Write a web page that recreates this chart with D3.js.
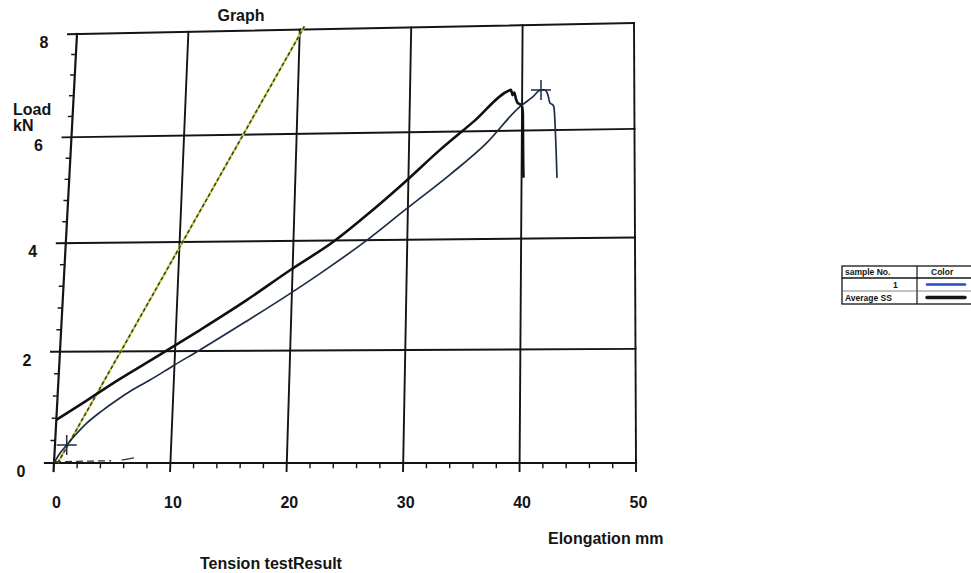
<!DOCTYPE html>
<html>
<head>
<meta charset="utf-8">
<script src="https://cdn.jsdelivr.net/npm/d3@7"></script>
<style>
  html, body { margin: 0; padding: 0; background: #ffffff; }
  svg { display: block; font-family: "Liberation Sans", Arial, sans-serif; font-weight: bold; }
</style>
</head>
<body>
<svg id="chart" width="971" height="573"></svg>
<script>
// ---- data -------------------------------------------------------------
const xTicks = [0, 10, 20, 30, 40, 50];          // elongation, mm
const yTicks = [0, 2, 4, 6, 8];                  // load, kN
const xMinor = d3.range(0, 50.01, 2);
const yMinor = d3.range(0, 8.01, 0.4);

// sample 1 (thin blue trace)
const sample1Elong = [0, 0.4, 1.01, 1.8, 2.64, 3.9, 5.13, 6.5, 7.93, 10, 12.16, 16, 19.67, 23, 26.46, 29.75, 33.7, 36.8, 39.82, 40.9, 41.68, 42.0, 42.19, 42.3, 42.48, 42.75, 42.84, 42.95, 43.05, 43.13];
const sample1Load  = [0, 0.15, 0.32, 0.52, 0.71, 0.93, 1.12, 1.31, 1.48, 1.75, 2.02, 2.52, 3.01, 3.48, 4.0, 4.55, 5.2, 5.76, 6.45, 6.62, 6.76, 6.76, 6.72, 6.66, 6.51, 6.47, 6.43, 6.1, 5.6, 5.11];

// average stress-strain (thick black trace)
const avgElong = [0, 2.5, 5.16, 8.5, 12.09, 16, 19.77, 23.65, 26.7, 29.7, 32.75, 35.8, 38.74, 39.0, 39.15, 39.3, 39.45, 39.6, 39.85, 40.0, 40.08, 40.1, 40.13, 40.17];
const avgLoad  = [0.77, 1.11, 1.48, 1.91, 2.38, 2.91, 3.46, 4.0, 4.52, 5.07, 5.66, 6.2, 6.75, 6.77, 6.67, 6.72, 6.60, 6.52, 6.49, 6.45, 6.3, 5.95, 5.5, 5.12];

// elastic slope line
const slopeElong = [0.32, 20.4];
const slopeLoad  = [0, 8.06];

// short trace along the baseline
const baseElong = [[0, 2, 4.9], [5.8, 6.85]];
const baseLoad  = [[0.02, 0.03, 0.04], [0.05, 0.09]];

// cross marks on sample 1 (start and break)
const crossElong = [1.01, 41.68];
const crossLoad  = [0.32, 6.76];

// legend table
const legendHeader = ["sample No.", "Color"];
const legendRows = ["1", "Average SS"];
const legendColors = ["#2a4bc8", "#151515"];

// ---- geometry -----------------------------------------------------------
// the plotting sheet sits slightly askew on the page
const sheet = { bl: [54, 463], br: [636, 463], tr: [634, 23], tl: [77, 34] };
const x = d3.scaleLinear().domain([0, 50]).range([0, 1]);
const y = d3.scaleLinear().domain([0, 8]).range([0, 1]);

function warp(u, v) {
  const f = v + 0.05 * v * (1 - v);
  const { bl, br, tr, tl } = sheet;
  const X = (1 - u) * (1 - f) * bl[0] + u * (1 - f) * br[0] + u * f * tr[0] + (1 - u) * f * tl[0];
  const Y = (1 - u) * (1 - f) * bl[1] + u * (1 - f) * br[1] + u * f * tr[1] + (1 - u) * f * tl[1];
  return [X, Y];
}
const P = (e, l) => warp(x(e), y(l));

function extend(a, b, len) {
  const dx = b[0] - a[0], dy = b[1] - a[1];
  const n = Math.hypot(dx, dy);
  return [b[0] + dx / n * len, b[1] + dy / n * len];
}

const svg = d3.select("#chart");
const ink = "#141414";

const line = d3.line().x(d => P(d[0], d[1])[0]).y(d => P(d[0], d[1])[1]);
const smooth = d3.line().curve(d3.curveMonotoneX).x(d => P(d[0], d[1])[0]).y(d => P(d[0], d[1])[1]);
const seg = (a, b) => "M" + a[0] + "," + a[1] + "L" + b[0] + "," + b[1];

// ---- grid and frame -------------------------------------------------------
const grid = svg.append("g").attr("stroke", ink).attr("fill", "none").attr("stroke-linecap", "square");

// vertical lines (major), reaching a little below the base line
grid.selectAll("path.vx").data(xTicks).join("path")
  .attr("class", "vx")
  .attr("stroke-width", d => d === 0 ? 2.2 : 1.9)
  .attr("d", d => {
    const top = P(d, 8), bot = P(d, 0);
    return seg(top, extend(top, bot, 8));
  });

// horizontal lines (major), reaching a little left of the load axis
grid.selectAll("path.hy").data(yTicks).join("path")
  .attr("class", "hy")
  .attr("stroke-width", d => d === 0 ? 2.2 : 1.9)
  .attr("d", d => {
    const r = P(50, d), l = P(0, d);
    return seg(r, extend(r, l, 9));
  });

// minor ticks on the elongation axis
grid.selectAll("path.mx").data(xMinor.filter(v => v % 10 !== 0)).join("path")
  .attr("class", "mx").attr("stroke-width", 1.4)
  .attr("d", d => {
    const a = P(d, 0.2), b = P(d, 0);
    return seg(b, extend(a, b, 4.5));
  });

// minor ticks on the load axis
grid.selectAll("path.my").data(yMinor.filter(v => Math.abs(v / 2 - Math.round(v / 2)) > 1e-6)).join("path")
  .attr("class", "my").attr("stroke-width", 1.4)
  .attr("d", d => {
    const a = P(2, d), b = P(0, d);
    return seg(b, extend(a, b, 4));
  });

// ---- tick labels ----------------------------------------------------------
const xLab = d3.scaleLinear().domain([0, 50]).range([sheet.bl[0], sheet.br[0]]);
const xAxis = svg.append("g")
  .attr("transform", "translate(2,497)")
  .call(d3.axisBottom(xLab).tickValues(xTicks).tickFormat(d3.format("d")).tickSize(0).tickPadding(0));
xAxis.select(".domain").remove();
xAxis.selectAll("text").attr("font-size", 16).attr("font-family", "Liberation Sans, Arial, sans-serif")
  .attr("font-weight", "bold").attr("fill", ink);

svg.append("g").selectAll("text").data(yTicks).join("text")
  .attr("x", d => P(0, d)[0] - 33)
  .attr("y", d => P(0, d)[1] + 14)
  .attr("text-anchor", "middle")
  .attr("font-size", 16).attr("fill", ink)
  .text(d => d);

// ---- titles -----------------------------------------------------------------
svg.append("text").attr("x", 241).attr("y", 21).attr("text-anchor", "middle")
  .attr("font-size", 16).attr("fill", ink).text("Graph");
svg.append("text").attr("x", 13).attr("y", 115).attr("font-size", 16).attr("fill", ink).text("Load");
svg.append("text").attr("x", 13).attr("y", 131).attr("font-size", 16).attr("fill", ink).text("kN");
svg.append("text").attr("x", 548).attr("y", 544).attr("font-size", 16).attr("fill", ink).text("Elongation mm");
svg.append("text").attr("x", 200).attr("y", 569).attr("font-size", 16).attr("fill", ink).text("Tension testResult");

// ---- traces -------------------------------------------------------------------
const slopePts = slopeElong.map((e, i) => [e, slopeLoad[i]]);
svg.append("path").attr("d", line(slopePts)).attr("fill", "none")
  .attr("stroke", "#c6cc4a").attr("stroke-width", 2.2);
svg.append("path").attr("d", line(slopePts)).attr("fill", "none")
  .attr("stroke", "#3c3c1c").attr("stroke-width", 1.5).attr("stroke-dasharray", "3.5,2.5");

baseElong.forEach((arr, k) => {
  svg.append("path").attr("d", line(arr.map((e, i) => [e, baseLoad[k][i]])))
    .attr("fill", "none").attr("stroke", "#333").attr("stroke-width", 1.3)
    .attr("stroke-dasharray", k === 0 ? "7,4" : null);
});

svg.append("path").attr("d", smooth(avgElong.map((e, i) => [e, avgLoad[i]])))
  .attr("fill", "none").attr("stroke", "#101010").attr("stroke-width", 2.6)
  .attr("stroke-linejoin", "round");

svg.append("path").attr("d", smooth(sample1Elong.map((e, i) => [e, sample1Load[i]])))
  .attr("fill", "none").attr("stroke", "#1b2c44").attr("stroke-width", 1.7)
  .attr("stroke-linejoin", "round");

svg.append("g").selectAll("path").data(crossElong.map((e, i) => [e, crossLoad[i]])).join("path")
  .attr("fill", "none").attr("stroke", "#1b2c44").attr("stroke-width", 1.5)
  .attr("d", d => {
    const [cx, cy] = P(d[0], d[1]);
    return `M${cx - 10},${cy}H${cx + 10}M${cx},${cy - 10}V${cy + 10}`;
  });

// ---- legend table ---------------------------------------------------------------
const lg = svg.append("g").attr("transform", "translate(842,266)");
const colW = [75, 60], rowH = [12, 13, 13];
const totW = colW[0] + colW[1], totH = d3.sum(rowH);
lg.append("rect").attr("width", totW).attr("height", totH)
  .attr("fill", "#fff").attr("stroke", ink).attr("stroke-width", 1.3);
lg.append("line").attr("x1", colW[0]).attr("x2", colW[0]).attr("y1", 0).attr("y2", totH)
  .attr("stroke", ink).attr("stroke-width", 1.2);
lg.append("line").attr("x1", 0).attr("x2", totW).attr("y1", rowH[0]).attr("y2", rowH[0])
  .attr("stroke", ink).attr("stroke-width", 1.4);
lg.append("line").attr("x1", 0).attr("x2", totW).attr("y1", rowH[0] + rowH[1]).attr("y2", rowH[0] + rowH[1])
  .attr("stroke", "#666").attr("stroke-width", 0.8);

lg.append("text").attr("x", 3).attr("y", 9).attr("font-size", 8.5).attr("fill", ink).text(legendHeader[0]);
lg.append("text").attr("x", colW[0] + 14).attr("y", 9).attr("font-size", 8.5).attr("fill", ink).text(legendHeader[1]);

legendRows.forEach((name, i) => {
  const cy = rowH[0] + rowH[1] * i + rowH[1] / 2;
  lg.append("text")
    .attr("x", i === 0 ? colW[0] - 24 : 3)
    .attr("y", cy + 3.3)
    .attr("text-anchor", "start")
    .attr("font-size", 8.5).attr("fill", ink).text(name);
  lg.append("line").attr("x1", colW[0] + 10).attr("x2", colW[0] + 48).attr("y1", cy).attr("y2", cy)
    .attr("stroke", legendColors[i]).attr("stroke-width", i === 0 ? 2.6 : 3.4).attr("stroke-linecap", "round");
});
</script>
</body>
</html>
